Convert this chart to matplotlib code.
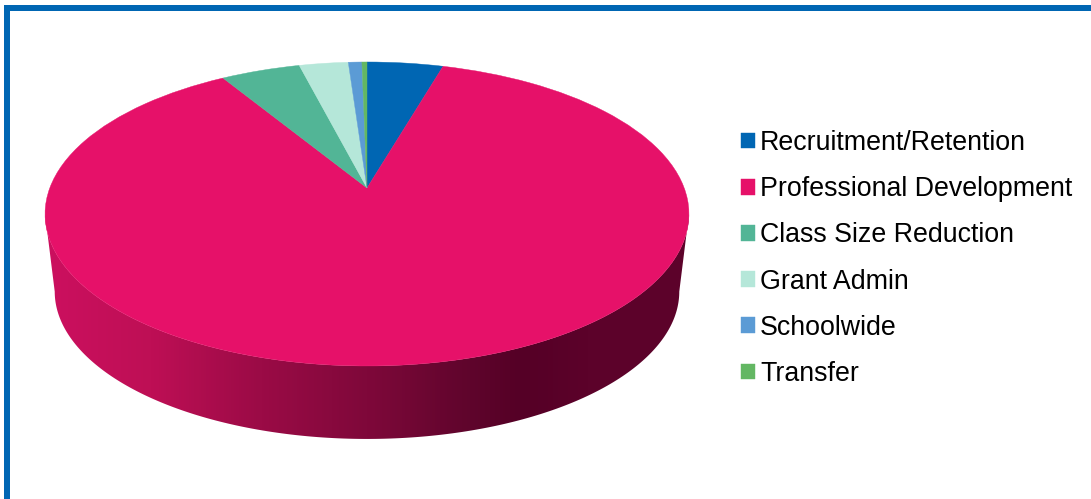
#!/usr/bin/env python3
import numpy as np
import matplotlib
matplotlib.use("Agg")
import matplotlib.pyplot as plt
from matplotlib.colors import LinearSegmentedColormap
from matplotlib.patches import Polygon, Rectangle
from matplotlib.transforms import Transform

categories = ["Recruitment/Retention", "Professional Development", "Class Size Reduction",
              "Grant Admin", "Schoolwide", "Transfer"]
values = [4.5, 86.7, 4.7, 2.9, 0.8, 0.3]
colors = ["#0066B3", "#E61169", "#52B596", "#B5E7D9", "#5B9BD5", "#63B763"]

# side wall shading, left to right (x pixel, colour)
wall_x = [45, 150, 260, 367, 470, 520, 590, 689]
wall_colors = ["#CC105F", "#BE0F55", "#9B0B46", "#7F083A", "#5F052C", "#550026", "#5C022A", "#5C022A"]

border_color = "#0066B3"
tilt = 0.171


class Tilted(Transform):
    # unit circle to pixels, near edge of the disc drawn bigger
    input_dims = 2
    output_dims = 2

    def __init__(self, cx, cy, bx, by):
        super().__init__()
        self.cx, self.cy, self.bx, self.by = cx, cy, bx, by

    def transform_non_affine(self, xy):
        xy = np.asarray(xy, dtype=float)
        w = 1 + tilt * xy[:, 1]
        return np.column_stack((self.cx + self.bx * xy[:, 0] / w,
                                self.cy - self.by * xy[:, 1] / w))


top = Tilted(367, 188, 317.2, 147.55)
bottom = Tilted(367, 266.3, 317.2 * 0.97, 147.55 * 0.97)

plt.rcParams["font.family"] = ["Liberation Sans", "DejaVu Sans"]
fig = plt.figure(figsize=(10.91, 4.99), dpi=100)
ax = fig.add_axes([0, 0, 1, 1])

wedges, _ = ax.pie(values, colors=colors, startangle=90, counterclock=False,
                   wedgeprops=dict(zorder=3))
for w, c in zip(wedges, colors):
    w.set_edgecolor(c)
    w.set_linewidth(0.3)
    w.set_transform(top + ax.transData)

# side wall: hull of the top and bottom outlines, filled with the shading
v = -tilt
left = np.arctan2(v, -np.sqrt(1 - v * v))
right = np.arctan2(v, np.sqrt(1 - v * v))
phi = np.linspace(left, right, 200)
circle = np.column_stack((np.cos(phi), np.sin(phi)))
outline = np.vstack((bottom.transform(circle), top.transform(circle)[::-1]))

stops = [(x - wall_x[0]) / (wall_x[-1] - wall_x[0]) for x in wall_x]
cmap = LinearSegmentedColormap.from_list("wall", list(zip(stops, wall_colors)))
im = ax.imshow(np.linspace(0, 1, 644).reshape(1, -1), cmap=cmap, aspect="auto",
               extent=(wall_x[0], wall_x[-1], 460, 180), zorder=2)
clip = Polygon(outline, closed=True, transform=ax.transData, facecolor="none", edgecolor="none")
ax.add_patch(clip)
im.set_clip_path(clip)

ax.set_aspect("auto")
ax.set_xlim(0, 1091)
ax.set_ylim(499, 0)
ax.axis("off")

# frame, only left and top show
ax.add_patch(Rectangle((4, 5), 6, 494, facecolor=border_color, edgecolor="none"))
ax.add_patch(Rectangle((4, 5), 1087, 6, facecolor=border_color, edgecolor="none"))

fs = 19.3
px = fs * 100 / 72
ax.legend(wedges, categories, loc="upper left", bbox_to_anchor=(741, 130),
          bbox_transform=ax.transData, frameon=False, fontsize=fs,
          handlelength=14 / px, handleheight=14 / px, handletextpad=5 / px,
          labelspacing=(47.0 - px * 1.0) / px, borderpad=0, borderaxespad=0)

fig.savefig("out.png", dpi=100)
